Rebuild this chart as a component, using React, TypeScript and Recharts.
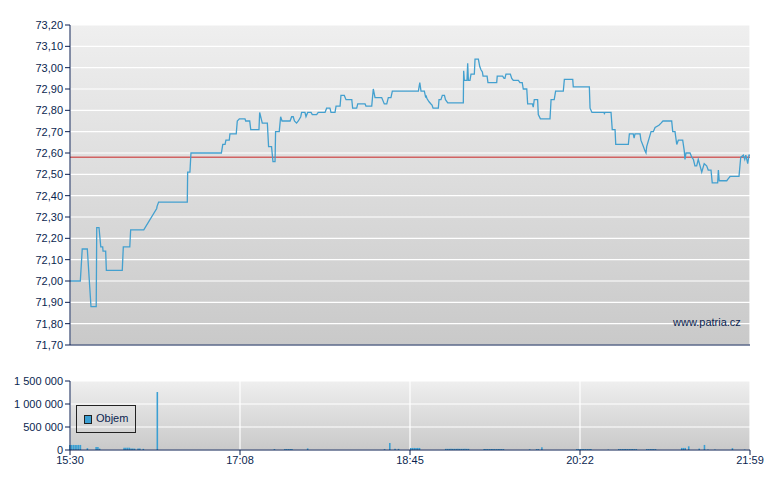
import React from 'react';
import { ComposedChart, Line, Bar, XAxis, YAxis, CartesianGrid, ReferenceLine } from 'recharts';

// minutes since 15:30 (session 15:30 - 21:59)
const priceMinutes = [
  0, 5.9, 7.0, 9.9, 12.0, 15.0, 15.3, 16.6, 17.6, 18.7, 18.9, 20.4, 20.8, 29.9, 30.5, 34.2, 34.7, 42.2, 49.6, 49.8,
  50.7, 67.1, 67.3, 68.6, 69.2, 86.6, 87.4, 88.7, 89.2, 91.1, 91.5, 95.1, 95.7, 96.9, 100.1, 100.5, 102.8, 103.4, 108.1, 108.5,
  110.0, 112.9, 113.6, 115.3, 116.1, 117.3, 117.6, 119.7, 120.5, 121.3, 125.9, 126.8, 127.7, 128.4, 129.6, 130.6, 132.0, 132.5, 134.4, 135.0,
  136.0, 137.9, 138.6, 141.1, 142.0, 145.9, 146.8, 148.7, 149.3, 151.6, 152.2, 154.5, 155.0, 156.9, 157.9, 161.2, 161.7, 164.0, 164.6, 168.8,
  169.3, 172.6, 173.5, 174.5, 178.3, 179.8, 181.2, 182.1, 183.6, 184.4, 199.3, 200.1, 200.8, 202.7, 203.5, 203.7, 204.2, 205.4, 206.5, 207.1,
  207.7, 210.7, 211.1, 212.2, 213.0, 214.2, 214.8, 216.1, 225.0, 225.2, 225.6, 227.1, 227.5, 227.9, 228.8, 229.4, 231.3, 231.7, 233.6, 234.4,
  235.1, 235.9, 236.3, 238.6, 239.1, 244.1, 244.4, 247.5, 248.3, 248.8, 249.4, 251.9, 252.7, 253.6, 256.5, 257.4, 258.7, 259.3, 261.3, 261.8,
  264.5, 265.0, 265.6, 267.5, 267.9, 269.1, 274.6, 275.2, 277.0, 277.8, 282.2, 282.8, 287.6, 287.9, 297.1, 297.5, 298.6, 305.5, 305.7, 306.1,
  309.5, 310.2, 311.8, 312.2, 319.4, 320.0, 322.2, 322.7, 323.2, 326.1, 326.6, 328.0, 328.9, 329.5, 329.9, 332.4, 333.7, 334.7, 336.9, 338.1,
  339.2, 344.2, 344.8, 346.1, 347.1, 348.0, 350.5, 351.4, 351.8, 352.4, 354.7, 355.7, 356.6, 357.5, 358.5, 359.4, 361.4, 362.8, 364.2, 365.1,
  366.7, 367.4, 370.5, 370.9, 371.4, 375.7, 376.6, 377.6, 382.7, 383.7, 385.2, 386.0, 386.6, 387.7, 388.4, 389,
];
const priceValues = [
  72.0, 72.0, 72.15, 72.15, 71.88, 71.88, 72.25, 72.25, 72.16, 72.16, 72.14, 72.14, 72.05, 72.05, 72.16, 72.16, 72.24, 72.24, 72.34, 72.35,
  72.37, 72.37, 72.51, 72.51, 72.6, 72.6, 72.64, 72.64, 72.66, 72.66, 72.69, 72.69, 72.75, 72.76, 72.76, 72.75, 72.75, 72.71, 72.71, 72.79,
  72.74, 72.74, 72.63, 72.63, 72.56, 72.56, 72.7, 72.7, 72.77, 72.75, 72.75, 72.77, 72.77, 72.75, 72.74, 72.75, 72.77, 72.79, 72.79, 72.77,
  72.79, 72.79, 72.78, 72.78, 72.79, 72.79, 72.81, 72.81, 72.79, 72.79, 72.82, 72.82, 72.87, 72.87, 72.85, 72.85, 72.81, 72.81, 72.83, 72.83,
  72.82, 72.82, 72.9, 72.86, 72.86, 72.83, 72.83, 72.86, 72.86, 72.89, 72.89, 72.93, 72.89, 72.89, 72.86, 72.87, 72.855, 72.84, 72.83, 72.825,
  72.81, 72.81, 72.85, 72.85, 72.87, 72.87, 72.85, 72.835, 72.835, 72.985, 72.94, 72.94, 73.02, 72.94, 72.94, 72.97, 72.97, 73.04, 73.04, 73.005,
  72.99, 72.98, 72.96, 72.96, 72.93, 72.93, 72.96, 72.96, 72.95, 72.95, 72.97, 72.97, 72.95, 72.94, 72.94, 72.93, 72.93, 72.9, 72.9, 72.83,
  72.83, 72.815, 72.85, 72.85, 72.78, 72.76, 72.76, 72.85, 72.85, 72.89, 72.89, 72.945, 72.945, 72.91, 72.91, 72.81, 72.79, 72.79, 72.785, 72.79,
  72.79, 72.71, 72.71, 72.64, 72.64, 72.69, 72.69, 72.67, 72.69, 72.69, 72.66, 72.63, 72.61, 72.6, 72.63, 72.7, 72.7, 72.72, 72.73, 72.74,
  72.75, 72.75, 72.7, 72.7, 72.64, 72.66, 72.66, 72.61, 72.57, 72.6, 72.6, 72.58, 72.57, 72.54, 72.54, 72.57, 72.51, 72.55, 72.54, 72.52,
  72.52, 72.46, 72.46, 72.52, 72.47, 72.47, 72.48, 72.49, 72.49, 72.58, 72.59, 72.57, 72.59, 72.55, 72.59, 72.59,
];

const volMinutes = [
  0, 1, 2, 3, 4, 5, 6, 10, 15, 16, 17, 31, 32, 33, 34, 35, 36, 37, 39, 40, 42, 50,
  117, 123, 124, 125, 126, 127, 136, 180, 183, 186, 188,
  195, 196, 197, 198, 199, 200,
  215, 216, 217, 218, 219, 220, 221, 222, 223, 224, 225, 226, 227, 228,
  237, 238, 239, 240, 241, 242, 243, 244, 245, 246, 247, 248,
  263, 267, 268, 270,
  290, 291, 292, 293, 294, 295, 296, 297, 298, 308,
  314, 315, 316, 317, 318, 319, 320, 321, 322, 323, 324,
  330, 331, 332, 333, 334, 335,
  350, 351, 352, 354, 360, 363, 365, 369, 379, 386,
];
const volValues = [
  110000, 110000, 110000, 110000, 110000, 110000, 110000, 40000, 65000, 65000, 30000, 50000, 50000, 50000, 50000, 30000, 30000, 30000, 30000, 30000, 25000, 1260000,
  20000, 20000, 20000, 20000, 20000, 20000, 35000, 20000, 150000, 25000, 25000,
  45000, 45000, 45000, 45000, 45000, 45000,
  25000, 25000, 25000, 25000, 25000, 25000, 25000, 25000, 25000, 25000, 25000, 25000, 25000, 25000,
  20000, 20000, 20000, 20000, 20000, 20000, 20000, 20000, 20000, 20000, 20000, 20000,
  15000, 20000, 20000, 60000,
  20000, 20000, 20000, 20000, 20000, 20000, 20000, 20000, 20000, 10000,
  20000, 20000, 20000, 20000, 20000, 20000, 20000, 20000, 20000, 20000, 20000,
  20000, 20000, 20000, 20000, 20000, 20000,
  45000, 45000, 45000, 80000, 30000, 110000, 10000, 10000, 40000, 10000,
];

const priceTicks = [71.7, 71.8, 71.9, 72.0, 72.1, 72.2, 72.3, 72.4, 72.5, 72.6, 72.7, 72.8, 72.9, 73.0, 73.1, 73.2];
const volTicks = [0, 500000, 1000000, 1500000];
const timeLabels = ['15:30', '17:08', '18:45', '20:22', '21:59'];
const prevClose = 72.58;
const sessionLength = 389;
const priceGridCount = 14;

const priceData = priceMinutes.map((m, i) => ({ t: m, price: priceValues[i] }));
const volData = volMinutes.map((m, i) => ({ t: m, vol: volValues[i] }));
const priceXTicks = Array.from({ length: priceGridCount + 1 }, (_, i) => (i * sessionLength) / priceGridCount);
const volXTicks = timeLabels.map((_, i) => (i * sessionLength) / (timeLabels.length - 1));

const NAVY = '#0b1f50';
const FONT = 'Liberation Sans, Arial, sans-serif';
const tickStyle = { fill: NAVY, fontSize: 11, fontFamily: FONT };

const fmtPrice = (v: number) => v.toFixed(2).replace('.', ',');
const fmtVol = (v: number) => String(Math.round(v)).replace(/\B(?=(\d{3})+(?!\d))/g, '\u00A0');
const fmtTime = (v: number) => {
  const i = volXTicks.findIndex((x) => Math.abs(x - v) < 0.01);
  return i >= 0 ? timeLabels[i] : '';
};

export default function App() {
  return (
    <div style={{ position: 'absolute', left: 0, top: 0, width: 780, height: 490, background: '#fff', fontFamily: FONT }}>
      <div style={{ position: 'absolute', left: 0, top: 0 }}>
        <ComposedChart width={780} height={360} data={priceData} margin={{ top: 25, right: 30, bottom: 5, left: 10 }}>
          <defs>
            <linearGradient id="bgMain" x1="0" y1="0" x2="0" y2="1">
              <stop offset="0%" stopColor="#efefef" />
              <stop offset="100%" stopColor="#c9c9c9" />
            </linearGradient>
          </defs>
          <CartesianGrid stroke="#ffffff" strokeWidth={1.2} fill="url(#bgMain)" fillOpacity={1} />
          <XAxis
            dataKey="t"
            type="number"
            domain={[0, sessionLength]}
            ticks={priceXTicks}
            interval={0}
            height={10}
            tick={false}
            tickSize={5}
            axisLine={{ stroke: NAVY }}
            tickLine={{ stroke: NAVY }}
          />
          <YAxis
            type="number"
            domain={[71.7, 73.2]}
            ticks={priceTicks}
            interval={0}
            width={60}
            tickSize={5}
            tickMargin={2}
            tickFormatter={fmtPrice}
            tick={tickStyle}
            axisLine={{ stroke: NAVY }}
            tickLine={{ stroke: NAVY }}
          />
          <ReferenceLine y={prevClose} stroke="#cc3a3a" strokeOpacity={0.75} strokeWidth={1.5} />
          <Line
            dataKey="price"
            type="linear"
            stroke="#43a0cf"
            strokeWidth={1.3}
            dot={false}
            activeDot={false}
            isAnimationActive={false}
          />
        </ComposedChart>
      </div>
      <div style={{ position: 'absolute', left: 673, top: 316, fontSize: 11, color: NAVY, fontFamily: FONT }}>www.patria.cz</div>

      <div style={{ position: 'absolute', left: 0, top: 360 }}>
        <ComposedChart width={780} height={130} data={volData} margin={{ top: 21, right: 30, bottom: 20, left: 10 }}>
          <defs>
            <linearGradient id="bgVol" x1="0" y1="0" x2="0" y2="1">
              <stop offset="0%" stopColor="#efefef" />
              <stop offset="100%" stopColor="#c9c9c9" />
            </linearGradient>
          </defs>
          <CartesianGrid stroke="#ffffff" strokeWidth={1.2} fill="url(#bgVol)" fillOpacity={1} />
          <XAxis
            dataKey="t"
            type="number"
            domain={[0, sessionLength]}
            ticks={volXTicks}
            interval={0}
            height={20}
            tickSize={5}
            tickMargin={1}
            tickFormatter={fmtTime}
            tick={tickStyle}
            axisLine={{ stroke: NAVY }}
            tickLine={{ stroke: NAVY }}
          />
          <YAxis
            type="number"
            domain={[0, 1500000]}
            ticks={volTicks}
            interval={0}
            width={60}
            tickSize={5}
            tickMargin={2}
            tickFormatter={fmtVol}
            tick={tickStyle}
            axisLine={{ stroke: NAVY }}
            tickLine={{ stroke: NAVY }}
          />
          <Bar dataKey="vol" fill="#3a9fd3" barSize={2.5} isAnimationActive={false} />
        </ComposedChart>
      </div>
      <div
        style={{
          position: 'absolute',
          left: 76,
          top: 405,
          width: 58,
          height: 26,
          border: '1px solid #222',
          boxSizing: 'content-box',
        }}
      >
        <div style={{ position: 'absolute', left: 7, top: 9, width: 6, height: 7, background: '#3a9fd3', border: '1px solid #222' }} />
        <div style={{ position: 'absolute', left: 19, top: 6, fontSize: 11, color: NAVY, fontFamily: FONT }}>Objem</div>
      </div>
    </div>
  );
}
